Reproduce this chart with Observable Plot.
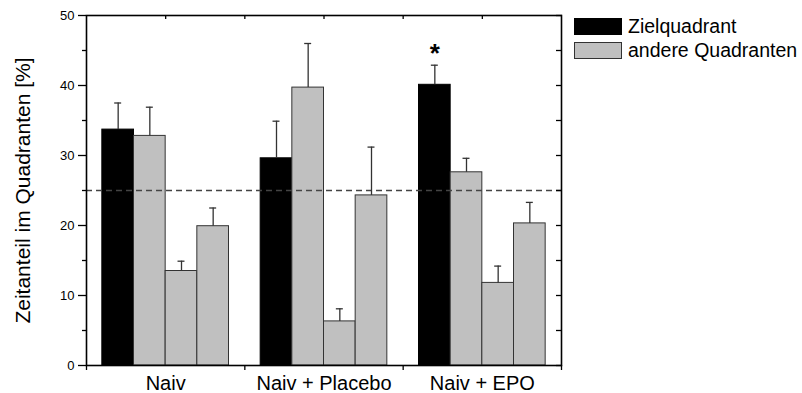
<!DOCTYPE html>
<html>
<head>
<meta charset="utf-8">
<script src="https://cdn.jsdelivr.net/npm/d3@7"></script>
<script src="https://cdn.jsdelivr.net/npm/@observablehq/plot@0.6"></script>
<style>
  body { margin: 0; background: #fff; font-family: "Liberation Sans", Arial, sans-serif; }
  #wrap { position: relative; width: 802px; height: 393px; }
  #legend { position: absolute; left: 574px; top: 17px; font-size: 19.5px; color: #000; }
  .row { display: flex; align-items: center; height: 18px; margin-bottom: 6px; }
  .sw { width: 48px; height: 17px; box-sizing: border-box; margin-right: 6px; }
</style>
</head>
<body>
<div id="wrap"></div>
<script>
const groups = ["Naiv", "Naiv + Placebo", "Naiv + EPO"];
const barKinds = ["Zielquadrant", "andere Quadranten", "andere Quadranten", "andere Quadranten"];
const legendLabels = ["Zielquadrant", "andere Quadranten"];
const naivMeans = [33.7, 32.8, 13.5, 19.9];
const naivErrors = [3.8, 4.1, 1.4, 2.6];
const placeboMeans = [29.6, 39.7, 6.3, 24.3];
const placeboErrors = [5.3, 6.3, 1.8, 6.9];
const epoMeans = [40.1, 27.6, 11.8, 20.3];
const epoErrors = [2.8, 2.0, 2.4, 3.0];
const chanceLevel = [25];
const significant = [{group: 2, bar: 0, label: "*"}];
const yTitle = "Zeitanteil im Quadranten [%]";
const yMajor = [0, 10, 20, 30, 40, 50];
const yMinor = [5, 15, 25, 35, 45];

const colors = {"Zielquadrant": "#000000", "andere Quadranten": "#c0c0c0"};
const means = [naivMeans, placeboMeans, epoMeans];
const errors = [naivErrors, placeboErrors, epoErrors];

// bar slot width (fraction of a group): 4 bars + half-bar padding each side
const bw = 1 / 5;
const bars = [];
groups.forEach((g, gi) => {
  means[gi].forEach((v, bi) => {
    const x1 = gi + bw * (0.5 + bi);
    bars.push({group: g, kind: barKinds[bi], value: v, err: errors[gi][bi],
               x1, x2: x1 + bw, xc: x1 + bw / 2});
  });
});
const capHalf = 0.022;

const chart = Plot.plot({
  width: 802,
  height: 393,
  marginLeft: 86,
  marginRight: 241,
  marginTop: 15,
  marginBottom: 28,
  style: {fontFamily: "'Liberation Sans', Arial, sans-serif", background: "white", overflow: "visible"},
  x: {domain: [0, 3], axis: null},
  y: {domain: [0, 50], axis: null},
  marks: [
    Plot.rectY(bars, {x1: "x1", x2: "x2", y1: 0, y2: "value",
      fill: d => colors[d.kind], stroke: d => d.kind === "Zielquadrant" ? "#000" : "#333", strokeWidth: 1}),
    Plot.ruleY(chanceLevel, {stroke: "#444", strokeWidth: 1.5, strokeDasharray: "6,4"}),
    Plot.ruleX(bars, {x: "xc", y1: "value", y2: d => d.value + d.err, stroke: "#333", strokeWidth: 1.3}),
    Plot.ruleY(bars, {y: d => d.value + d.err, x1: d => d.xc - capHalf, x2: d => d.xc + capHalf, stroke: "#333", strokeWidth: 1.3}),
    Plot.text(significant, {
      x: d => d.group + bw * (1 + d.bar),
      y: d => means[d.group][d.bar] + errors[d.group][d.bar],
      text: "label", fontSize: 26, fontWeight: "bold", lineAnchor: "bottom", dy: -3, fill: "#000"}),
    Plot.frame({stroke: "#000", strokeWidth: 1.6}),
    Plot.axisY({anchor: "left", label: null, ticks: yMajor, tickSize: 8, tickPadding: 4, fontSize: 13, tickFormat: d => String(d), stroke: "#000", strokeWidth: 1.3}),
    Plot.axisY({anchor: "left", label: null, ticks: yMinor, tickSize: 4, tickFormat: () => "", stroke: "#000", strokeWidth: 1.3}),
    Plot.axisY({anchor: "right", label: null, ticks: yMajor.concat(yMinor), tickSize: 6, dx: -6, tickFormat: () => "", stroke: "#000", strokeWidth: 1.3}),
    Plot.axisX({anchor: "bottom", label: null, ticks: [0, 1, 2, 3], tickSize: 5, tickFormat: () => "", stroke: "#000", strokeWidth: 1.3}),
    Plot.axisX({anchor: "top", label: null, ticks: [0.5, 1, 1.5, 2, 2.5], tickSize: 3, dy: 3, tickFormat: () => "", stroke: "#000", strokeWidth: 1.3}),
    Plot.text(groups, {x: (d, i) => i + 0.5, y: 0, text: d => d, fontSize: 20, lineAnchor: "bottom", dy: 24, fill: "#000"}),
    Plot.text([yTitle], {frameAnchor: "left", textAnchor: "middle", dx: -63, rotate: -90, text: d => d, fontSize: 21, fill: "#000"})
  ]
});

const wrap = document.getElementById("wrap");
wrap.appendChild(chart);

const legend = document.createElement("div");
legend.id = "legend";
legendLabels.forEach(l => {
  const row = document.createElement("div");
  row.className = "row";
  const sw = document.createElement("div");
  sw.className = "sw";
  sw.style.background = colors[l];
  sw.style.border = l === "Zielquadrant" ? "1px solid #000" : "1px solid #333";
  const t = document.createElement("span");
  t.textContent = l;
  row.appendChild(sw);
  row.appendChild(t);
  legend.appendChild(row);
});
wrap.appendChild(legend);
</script>
</body>
</html>
